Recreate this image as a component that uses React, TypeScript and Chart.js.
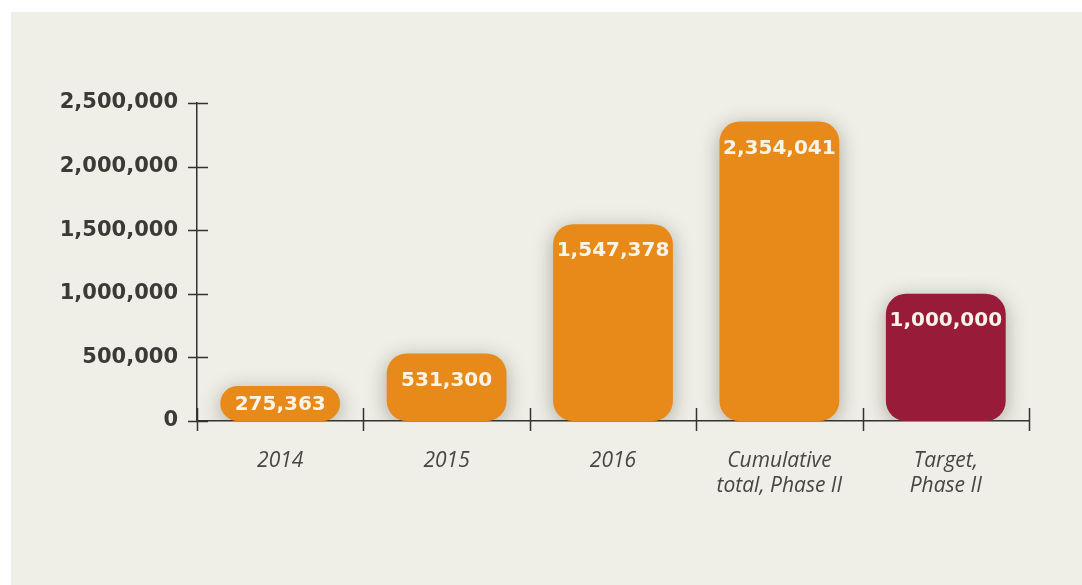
import React, { useEffect, useRef } from "react";
import { Chart, registerables } from "chart.js";

Chart.register(...registerables);

const categories: (string | string[])[] = [
  "2014",
  "2015",
  "2016",
  ["Cumulative", "total, Phase II"],
  ["Target,", "Phase II"],
];
const values: number[] = [275363, 531300, 1547378, 2354041, 1000000];
const barColors: string[] = ["#e88a1a", "#e88a1a", "#e88a1a", "#e88a1a", "#981c3a"];
const yTickValues: number[] = [0, 500000, 1000000, 1500000, 2000000, 2500000];

const AXIS_COLOR = "#333330";

const shadowPlugin = {
  id: "barShadow",
  beforeDatasetsDraw(chart: any) {
    const ctx = chart.ctx;
    ctx.save();
    ctx.shadowColor = "rgba(70,70,50,0.4)";
    ctx.shadowBlur = 20;
    ctx.shadowOffsetX = 0;
    ctx.shadowOffsetY = 4;
  },
  afterDatasetsDraw(chart: any) {
    chart.ctx.restore();
  },
};

const labelPlugin = {
  id: "barLabels",
  afterDraw(chart: any) {
    const ctx = chart.ctx;
    const meta = chart.getDatasetMeta(0);
    ctx.save();
    ctx.fillStyle = "#f8f4ea";
    ctx.font = "bold 20px 'DejaVu Sans'";
    ctx.textAlign = "center";
    ctx.textBaseline = "middle";
    meta.data.forEach((bar: any, i: number) => {
      const top = bar.y;
      const base = bar.base;
      const y = Math.min(top + 26, (top + base) / 2);
      ctx.fillText(values[i].toLocaleString("en-US"), bar.x, y + 1);
    });
    ctx.restore();
  },
};

const tickPlugin = {
  id: "crossTicks",
  afterDraw(chart: any) {
    const ctx = chart.ctx;
    const area = chart.chartArea;
    const yScale = chart.scales.y;
    const xScale = chart.scales.x;
    ctx.save();
    ctx.strokeStyle = AXIS_COLOR;
    ctx.lineWidth = 1.5;
    ctx.beginPath();
    yTickValues.forEach((v) => {
      const y = Math.round(yScale.getPixelForValue(v)) + 0.5;
      ctx.moveTo(area.left - 9, y);
      ctx.lineTo(area.left + 11, y);
    });
    const n = categories.length;
    for (let i = 0; i <= n; i++) {
      const x = Math.round(xScale.left + (i * (xScale.right - xScale.left)) / n) + 0.5;
      ctx.moveTo(x, area.bottom - 13);
      ctx.lineTo(x, area.bottom + 10);
    }
    ctx.stroke();
    ctx.restore();
  },
};

export default function App() {
  const canvasRef = useRef<HTMLCanvasElement | null>(null);

  useEffect(() => {
    if (!canvasRef.current) return;
    const chart = new Chart(canvasRef.current, {
      type: "bar",
      data: {
        labels: categories,
        datasets: [
          {
            data: values,
            backgroundColor: barColors,
            borderRadius: 20,
            borderSkipped: false,
            barPercentage: 0.72,
            categoryPercentage: 1,
          },
        ],
      },
      options: {
        responsive: false,
        animation: false,
        layout: { padding: { top: 91, right: 53, left: 0, bottom: 0 } },
        plugins: {
          legend: { display: false },
          tooltip: { enabled: false },
        },
        scales: {
          y: {
            min: 0,
            max: 2500000,
            z: 1,
            afterFit(scale: any) {
              scale.width = 186;
            },
            afterBuildTicks(scale: any) {
              scale.ticks = yTickValues.map((v) => ({ value: v }));
            },
            grid: { display: false, drawTicks: false },
            border: { display: true, color: AXIS_COLOR, width: 1.5 },
            ticks: {
              padding: 19,
              color: "#3a3a37",
              font: { family: "'DejaVu Sans'", size: 21, weight: "bold" },
              callback: (v: any) => Number(v).toLocaleString("en-US"),
            },
          },
          x: {
            z: 1,
            afterFit(scale: any) {
              scale.height = 164;
            },
            grid: { display: false, drawTicks: false },
            border: { display: true, color: AXIS_COLOR, width: 1.5 },
            ticks: {
              padding: 27,
              maxRotation: 0,
              color: "#464643",
              font: { family: "'Open Sans'", size: 21, style: "italic", weight: "400", lineHeight: 1.2 },
            },
          },
        },
      },
      plugins: [shadowPlugin, labelPlugin, tickPlugin],
    });
    return () => chart.destroy();
  }, []);

  return (
    <div
      style={{
        position: "fixed",
        left: 11,
        top: 12,
        width: 1071,
        height: 573,
        background: "#efeee7",
      }}
    >
      <canvas ref={canvasRef} width={1071} height={573} />
    </div>
  );
}
